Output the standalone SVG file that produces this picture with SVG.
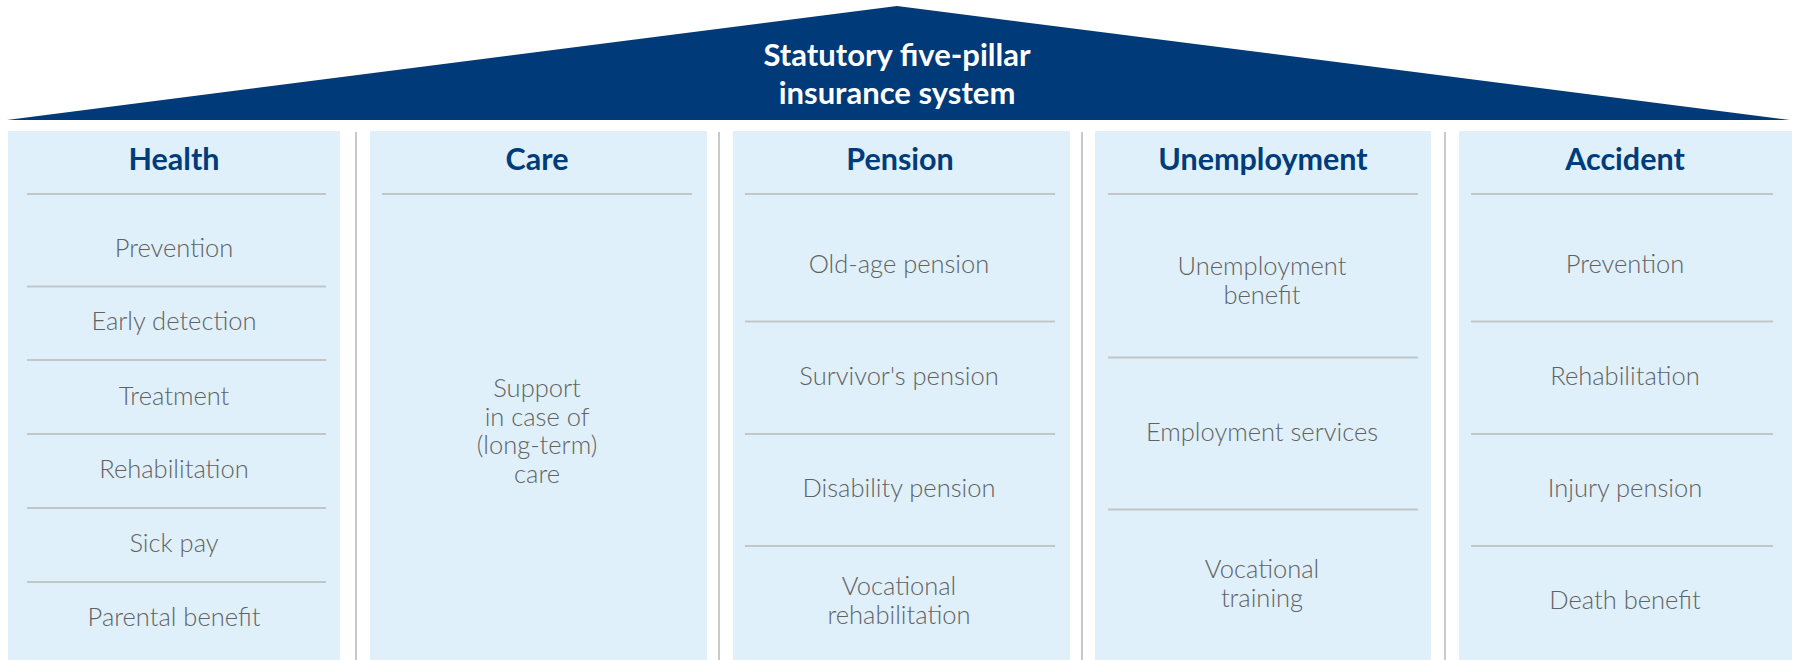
<svg xmlns="http://www.w3.org/2000/svg" width="1797" height="660" viewBox="0 0 1797 660">
<style>
  .panel { fill: #dff0fb; }
  .sep { stroke: #b4b7ba; stroke-width: 1.5; }
  .div { stroke: #c3c6c9; stroke-width: 2; }
  .head { font-family: Lato, "Open Sans", sans-serif; font-weight: 700; font-size: 30.5px; fill: #003b7a; text-anchor: middle; }
  .item { font-family: Lato, "Open Sans", sans-serif; font-weight: 300; font-size: 25.5px; fill: #626262; text-anchor: middle; }
  .title { font-family: Lato, "Open Sans", sans-serif; font-weight: 700; font-size: 31px; fill: #ffffff; text-anchor: middle; }
</style>
<rect width="1797" height="660" fill="#ffffff"/>
<g id="roof">
  <polygon points="7,120 897,6 1790,120" fill="#003a78"/>
  <text class="title" x="897" y="66">Statutory five-pillar</text>
  <text class="title" x="897" y="104">insurance system</text>
</g>
<g id="connectors">
  <line class="sep" x1="356" y1="132" x2="356" y2="660"/>
  <line class="sep" x1="719" y1="132" x2="719" y2="660"/>
  <line class="sep" x1="1082" y1="132" x2="1082" y2="660"/>
  <line class="sep" x1="1445" y1="132" x2="1445" y2="660"/>
</g>
<g id="health">
  <rect class="panel" x="8" y="131" width="332" height="529"/>
  <text class="head" x="174" y="170">Health</text>
  <line class="div" x1="27" y1="194" x2="326" y2="194"/>
  <line class="div" x1="27" y1="286.5" x2="326" y2="286.5"/>
  <line class="div" x1="27" y1="360" x2="326" y2="360"/>
  <line class="div" x1="27" y1="434" x2="326" y2="434"/>
  <line class="div" x1="27" y1="508" x2="326" y2="508"/>
  <line class="div" x1="27" y1="582" x2="326" y2="582"/>
  <text class="item" x="174" y="256.5">Prevention</text>
  <text class="item" x="174" y="330">Early detection</text>
  <text class="item" x="174" y="404.5">Treatment</text>
  <text class="item" x="174" y="478">Rehabilitation</text>
  <text class="item" x="174" y="551.5">Sick pay</text>
  <text class="item" x="174" y="625.5">Parental benefit</text>
</g>
<g id="care">
  <rect class="panel" x="370" y="131" width="337" height="529"/>
  <text class="head" x="537" y="170">Care</text>
  <line class="div" x1="382" y1="194" x2="692" y2="194"/>
  <text class="item" x="537" y="397">Support</text>
  <text class="item" x="537" y="426">in case of</text>
  <text class="item" x="537" y="454">(long-term)</text>
  <text class="item" x="537" y="483">care</text>
</g>
<g id="pension">
  <rect class="panel" x="733" y="131" width="337" height="529"/>
  <text class="head" x="900" y="170">Pension</text>
  <line class="div" x1="745" y1="194" x2="1055" y2="194"/>
  <line class="div" x1="745" y1="321.5" x2="1055" y2="321.5"/>
  <line class="div" x1="745" y1="434" x2="1055" y2="434"/>
  <line class="div" x1="745" y1="546" x2="1055" y2="546"/>
  <text class="item" x="899" y="272.5">Old-age pension</text>
  <text class="item" x="899" y="385">Survivor's pension</text>
  <text class="item" x="899" y="497">Disability pension</text>
  <text class="item" x="899" y="595">Vocational</text>
  <text class="item" x="899" y="624">rehabilitation</text>
</g>
<g id="unemployment">
  <rect class="panel" x="1095" y="131" width="336" height="529"/>
  <text class="head" x="1263" y="170">Unemployment</text>
  <line class="div" x1="1108" y1="194" x2="1418" y2="194"/>
  <line class="div" x1="1108" y1="357.5" x2="1418" y2="357.5"/>
  <line class="div" x1="1108" y1="509.5" x2="1418" y2="509.5"/>
  <text class="item" x="1262" y="275">Unemployment</text>
  <text class="item" x="1262" y="303.5">benefit</text>
  <text class="item" x="1262" y="441">Employment services</text>
  <text class="item" x="1262" y="578">Vocational</text>
  <text class="item" x="1262" y="607">training</text>
</g>
<g id="accident">
  <rect class="panel" x="1459" y="131" width="333" height="529"/>
  <text class="head" x="1625" y="170">Accident</text>
  <line class="div" x1="1471" y1="194" x2="1773" y2="194"/>
  <line class="div" x1="1471" y1="321.5" x2="1773" y2="321.5"/>
  <line class="div" x1="1471" y1="434" x2="1773" y2="434"/>
  <line class="div" x1="1471" y1="546" x2="1773" y2="546"/>
  <text class="item" x="1625" y="272.5">Prevention</text>
  <text class="item" x="1625" y="385">Rehabilitation</text>
  <text class="item" x="1625" y="497">Injury pension</text>
  <text class="item" x="1625" y="609">Death benefit</text>
</g>
</svg>
